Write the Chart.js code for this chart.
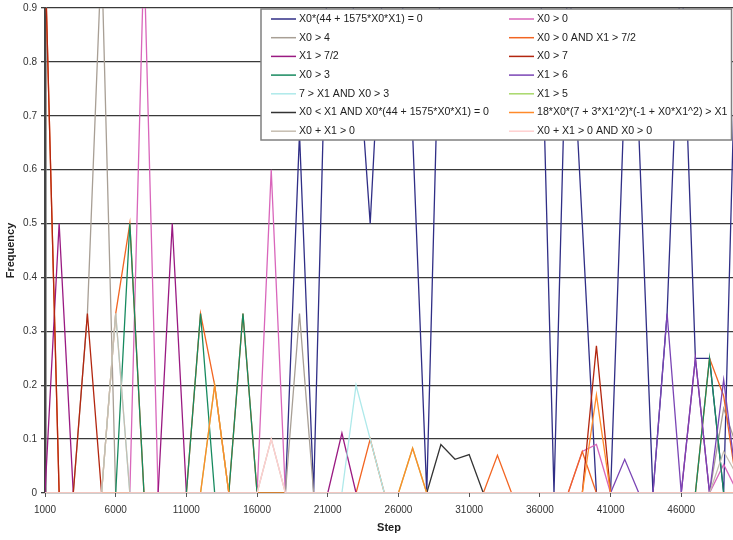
<!DOCTYPE html>
<html>
<head>
<meta charset="utf-8">
<script src="https://cdn.jsdelivr.net/npm/chart.js@4.4.0/dist/chart.umd.min.js"></script>
<style>
  body { margin: 0; background: #fff; }
  #wrap { width: 733px; height: 540px; }
</style>
</head>
<body>
<div id="wrap"><canvas id="freqChart"></canvas></div>
<script>
// x positions: one sample every 1000 steps
var steps = [];
for (let s = 1000; s <= 50000; s += 1000) steps.push(s);

var xTicks = [1000, 6000, 11000, 16000, 21000, 26000, 31000, 36000, 41000, 46000];

// series values, one per step (1000 .. 50000)
var fNavy   = [0,0,0,0,0,0,0,0,0,0, 0,0,0,0,0,0,0,0,0.667,0, 1,1,0.875,0.5,1,1,0.667,0,1,1, 1,1,1,1,1,1,0,1,0.5,0, 0,0.75,0.667,0,0.333,1,0.25,0.25,0,1];
var fX0g0   = [0,0,0,0,0,0,0,1,0,0, 0,0,0,0,0,0,0.6,0,0,0, 0,0,0,0,0,0,0,0,0,0, 0,0,0,0,0,0,0,0,0.077,0.09, 0,0,0,0,0,0,0,0,0.053,0];
var fX0g4   = [0,0,0,0.333,1,0,0,0,0,0, 0,0,0,0,0,0,0,0,0.333,0, 0,0,0,0,0,0,0,0,0,0, 0,0,0,0,0,0,0,0,0,0, 0,0,0,0,0,0,0,0,0.157,0.08];
var fX0X1   = [1,0,0,0,0,0.333,0.5,0,0,0, 0,0.333,0.2,0,0.333,0,0,0,0,0, 0,0,0,0.1,0,0,0,0,0,0, 0,0,0.07,0,0,0,0,0,0.077,0, 0,0,0,0,0,0,0,0.25,0.18,0];
var fX1g35  = [0,0.5,0,0,0,0,0,0,0,0.5, 0,0,0,0,0,0,0,0,0,0, 0,0.111,0,0,0,0,0,0,0,0, 0,0,0,0,0,0,0,0,0,0, 0,0,0,0,0,0,0.25,0,0,0];
var fX0g7   = [1,0,0,0.333,0,0,0,0,0,0, 0,0,0,0,0,0,0,0,0,0, 0,0,0,0,0,0,0,0,0,0, 0,0,0,0,0,0,0,0,0,0.273, 0,0,0,0,0,0,0,0,0,0];
var fX0g3   = [0,0,0,0,0,0,0.5,0,0,0, 0,0.333,0,0,0.333,0,0,0,0,0, 0,0,0,0,0,0,0,0,0,0, 0,0,0,0,0,0,0,0,0,0, 0,0,0,0,0,0,0,0.25,0,0];
var fX1g6   = [0,0,0,0,0,0,0,0,0,0, 0,0,0,0,0,0,0,0,0,0, 0,0,0,0,0,0,0,0,0,0, 0,0,0,0,0,0,0,0,0,0, 0,0.0625,0,0,0.333,0,0.25,0,0.21,0];
var f7X1    = [0,0,0,0,0,0.333,0,0,0,0, 0,0,0,0,0,0,0,0,0,0, 0,0,0.2,0.1,0,0,0,0,0,0, 0,0,0,0,0,0,0,0,0,0, 0,0,0,0,0,0,0,0,0,0];
var fX1g5   = [0,0,0,0,0,0,0,0,0,0, 0,0,0.2,0,0,0,0,0,0,0, 0,0,0,0,0,0,0.083,0,0,0, 0,0,0,0,0,0,0,0,0,0, 0,0,0,0,0,0,0,0,0,0];
var fX0ltX1 = [0,0,0,0,0,0,0,0,0,0, 0,0,0,0,0,0,0,0,0,0, 0,0,0,0,0,0,0,0,0.09,0.0625, 0.0714,0,0,0,0,0,0,0,0,0, 0,0,0,0,0,0,0,0,0,0];
var f18X0   = [0,0,0,0,0,0,0,0,0,0, 0,0,0.2,0,0,0,0,0,0,0, 0,0,0,0,0,0,0.083,0,0,0, 0,0,0,0,0,0,0,0,0,0.182, 0,0,0,0,0,0,0,0,0,0];
var fSum    = [0,0,0,0,0,0.333,0,0,0,0, 0,0,0,0,0,0,0.1,0,0,0, 0,0,0,0,0,0,0,0,0,0, 0,0,0,0,0,0,0,0,0,0, 0,0,0,0,0,0,0,0,0.077,0.03];
var fSumX0  = [0,0,0,0,0,0,0,0,0,0, 0,0,0,0,0,0,0.1,0,0,0, 0,0,0,0,0,0,0,0,0,0, 0,0,0,0,0,0,0,0,0,0, 0,0,0,0,0,0,0,0,0,0];

var seriesLabels = [
  'X0*(44 + 1575*X0*X1) = 0', 'X0 > 0',
  'X0 > 4', 'X0 > 0 AND X1 > 7/2',
  'X1 > 7/2', 'X0 > 7',
  'X0 > 3', 'X1 > 6',
  '7 > X1 AND X0 > 3', 'X1 > 5',
  'X0 < X1 AND X0*(44 + 1575*X0*X1) = 0', '18*X0*(7 + 3*X1^2)*(-1 + X0*X1^2) > X1',
  'X0 + X1 > 0', 'X0 + X1 > 0 AND X0 > 0'
];
var seriesValues = [fNavy, fX0g0, fX0g4, fX0X1, fX1g35, fX0g7, fX0g3, fX1g6, f7X1, fX1g5, fX0ltX1, f18X0, fSum, fSumX0];
var seriesColors = ['#302e86', '#d966bb', '#a89f95', '#f26522', '#9a1a82', '#b3260f', '#178a5f',
                    '#7a45b5', '#aee9ea', '#a8d86a', '#333333', '#ff8a2a', '#c6bdb0', '#ffd0d0'];

var datasets = [];
for (let i in seriesLabels) {
  datasets.push({
    label: seriesLabels[i],
    data: seriesValues[i],
    borderColor: seriesColors[i],
    backgroundColor: seriesColors[i],
    borderWidth: 1.3,
    pointRadius: 0,
    tension: 0,
    fill: false,
    order: seriesLabels.length - i
  });
}

// two-column legend box drawn over the plot
const boxLegend = {
  id: 'boxLegend',
  afterDatasetsDraw(chart) {
    const ctx = chart.ctx;
    const ca = chart.chartArea;
    const x0 = 261, y0 = ca.top + 1, w = ca.right - 1.5 - x0, h = 131;
    ctx.save();
    ctx.fillStyle = '#fff';
    ctx.fillRect(x0, y0, w, h);
    ctx.strokeStyle = '#808080';
    ctx.lineWidth = 1.5;
    ctx.strokeRect(x0, y0, w, h);
    ctx.font = '10.6px "Liberation Sans", Arial, sans-serif';
    ctx.textBaseline = 'middle';
    ctx.fillStyle = '#222';
    chart.data.datasets.forEach(function(ds, i) {
      const col = i % 2, row = Math.floor(i / 2);
      const lx = col === 0 ? 271 : 509;
      const ly = ca.top + 11 + row * 18.7;
      ctx.strokeStyle = ds.borderColor;
      ctx.lineWidth = 1.5;
      ctx.beginPath();
      ctx.moveTo(lx, ly);
      ctx.lineTo(lx + 25, ly);
      ctx.stroke();
      ctx.fillText(ds.label, lx + 28, ly);
    });
    ctx.restore();
  }
};

const config_freq = {
  type: 'line',
  data: { labels: steps, datasets: datasets },
  options: {
    responsive: true,
    maintainAspectRatio: false,
    animation: false,
    layout: { padding: { top: 8, right: 0, left: 0, bottom: 0 } },
    plugins: { legend: { display: false }, tooltip: { enabled: false } },
    scales: {
      x: {
        type: 'linear',
        min: 1000,
        max: 49660,
        afterBuildTicks: function(scale) {
          scale.ticks = xTicks.map(function(v) { return { value: v }; });
        },
        afterFit: function(scale) {
          scale.height = 47;
          scale.paddingRight = 0;
        },
        grid: { drawOnChartArea: false, drawTicks: true, tickLength: 4, color: '#555' },
        border: { display: false },
        ticks: {
          padding: 7, maxRotation: 0, autoSkip: false, color: '#333',
          font: { family: '"Liberation Sans", Arial, sans-serif', size: 10 },
          callback: function(v) { return String(v); }
        },
        title: {
          display: true, text: 'Step', color: '#222',
          font: { family: '"Liberation Sans", Arial, sans-serif', size: 11, weight: 'bold' },
          padding: { top: 2, bottom: 5 }
        }
      },
      y: {
        min: 0,
        max: 0.9,
        afterFit: function(scale) {
          scale.width = 45;
          scale.paddingTop = 0;
        },
        grid: { color: '#3a3a3a', lineWidth: 1.3, tickLength: 4 },
        border: { display: true, color: '#444', width: 2.5 },
        ticks: {
          stepSize: 0.1, padding: 4, color: '#333',
          font: { family: '"Liberation Sans", Arial, sans-serif', size: 10 },
          callback: function(v) { return v === 0 ? '0' : v.toFixed(1); }
        },
        title: {
          display: true, text: 'Frequency', color: '#222',
          font: { family: '"Liberation Sans", Arial, sans-serif', size: 11, weight: 'bold' },
          padding: { top: 4, bottom: 2 }
        }
      }
    }
  },
  plugins: [boxLegend]
};

const freqChart = new Chart(document.getElementById('freqChart'), config_freq);
</script>
</body>
</html>
